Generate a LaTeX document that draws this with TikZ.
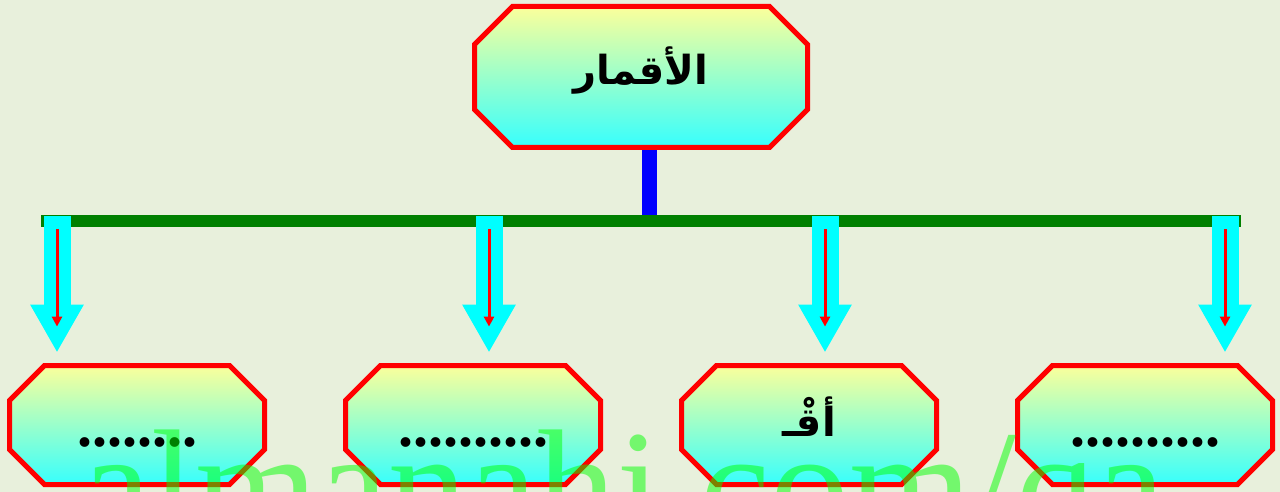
\documentclass[tikz,border=0pt]{standalone}
\usepackage{fontspec}
\usepackage{xcolor}
\usetikzlibrary{arrows.meta,positioning}
\TeXXeTstate=1
\newfontfamily\arabicfont[Script=Arabic]{DejaVu Sans}
\newfontfamily\seriffont{Liberation Serif}

\definecolor{bgcol}{RGB}{232,240,220}
\definecolor{boxtop}{RGB}{255,255,153}
\definecolor{boxbot}{RGB}{51,255,255}
\definecolor{bargreen}{RGB}{0,128,0}
\definecolor{arrowcyan}{RGB}{0,255,255}

% octagon outline inside the node box, #1 = chamfer
\newcommand\octpath[1]{%
  ([shift={(#1+1.25pt,-1.25pt)}]path picture bounding box.north west)
  -- ([shift={(-#1-1.25pt,-1.25pt)}]path picture bounding box.north east)
  -- ([shift={(-1.25pt,-#1-1.25pt)}]path picture bounding box.north east)
  -- ([shift={(-1.25pt,#1+1.25pt)}]path picture bounding box.south east)
  -- ([shift={(-#1-1.25pt,1.25pt)}]path picture bounding box.south east)
  -- ([shift={(#1+1.25pt,1.25pt)}]path picture bounding box.south west)
  -- ([shift={(1.25pt,#1+1.25pt)}]path picture bounding box.south west)
  -- ([shift={(1.25pt,-#1-1.25pt)}]path picture bounding box.north west)
  -- cycle}

\tikzset{
  octbox/.style={rectangle, inner sep=0pt, path picture={
      \shade[top color=boxtop, bottom color=boxbot, draw=red, line width=2.5pt,
        line join=miter] \octpath{#1};}},
  topbox/.style={octbox=19pt, minimum width=169pt, minimum height=73pt,
    text height=12pt, text depth=4pt, font=\arabicfont\bfseries\fontsize{20}{20}\selectfont},
  leafbox/.style={octbox=17.5pt, minimum width=130pt, minimum height=62pt,
    text height=22pt, text depth=0.5pt, font=\seriffont\bfseries\fontsize{30}{30}\selectfont},
  blockarrow/.style={draw=arrowcyan, line width=13.5pt, -{Triangle[length=24pt,width=25pt]}},
  thinarrow/.style={draw=red, line width=1.5pt, -{Triangle[length=5pt,width=5pt]}},
}

\begin{document}
\begin{tikzpicture}[x=0.5pt,y=-0.5pt]
                \fill[bgcol] (0,0) rectangle (1280,492);
                \useasboundingbox (0,0) rectangle (1280,492);
                \clip (0,0) rectangle (1280,492);

                \coordinate (stem) at (649.5,221);
                \coordinate (barL) at (41,221);
                \coordinate (barR) at (1241,221);
                \foreach \i/\x in {1/57,2/489,3/825,4/1225}
                  \coordinate (a\i) at (\x,216);

                \node[topbox] (moons) at (641,77) {\beginR الأقمار\endR};
                \draw[blue, line width=7.5pt] (stem |- moons.south) -- (stem);
                \draw[bargreen, line width=6pt] (barL) -- (barR);

                \node[leafbox] (l1) at (137,425) {........};
                \node[leafbox] (l2) at (473,425) {..........};
                \node[leafbox, text height=15pt, text depth=4pt,
                  font=\arabicfont\bfseries\fontsize{20}{20}\selectfont] (l3) at (809,425) {\beginR أقْـ\endR};
                \node[leafbox] (l4) at (1145,425) {..........};

                \foreach \i in {1,...,4} {
                  \draw[blockarrow, shorten >=5pt] (a\i) -- (a\i |- l\i.north);
                  \draw[thinarrow, shorten <=6.5pt, shorten >=18pt] (a\i) -- (a\i |- l\i.north);
                }

                % watermark
                \node[anchor=base west, inner sep=0pt, text=green, text opacity=0.5,
                  font=\seriffont\fontsize{79}{79}\selectfont] (mark) at (81,539) {almanahj.com/qa};
            \end{tikzpicture}
\end{document}
